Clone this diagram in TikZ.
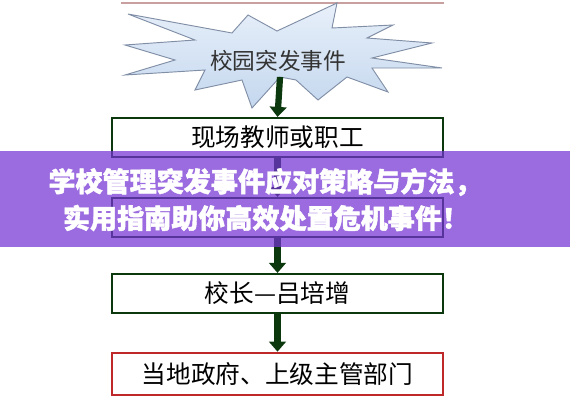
\documentclass[tikz,border=0pt]{standalone}
\usepackage{fontspec}
\newfontfamily\cjk{Noto Sans CJK SC}
\newfontfamily\cjkheavy[FakeBold=1.6]{Noto Sans CJK SC}
\usetikzlibrary{arrows.meta}

\definecolor{flowgreen}{RGB}{12,56,14}
\definecolor{burstedge}{RGB}{128,142,166}
\definecolor{bursttop}{RGB}{232,240,250}
\definecolor{burstbot}{RGB}{196,215,238}
\definecolor{toprule}{RGB}{200,160,160}
\definecolor{alertred}{RGB}{190,40,40}
\definecolor{bannerpurple}{RGB}{117,50,212}

\tikzset{
  stepbox/.style={draw=flowgreen, line width=1.9pt, fill=white, minimum width=248pt, minimum height=29pt, inner sep=0pt, font=\cjk\fontsize{18.5}{20}\selectfont},
  flowarrow/.style={draw=flowgreen, line width=4.7pt, -{Triangle[width=12.5pt,length=7.5pt]}},
  bannertext/.style={text=white, inner sep=0pt, font=\cjkheavy\bfseries\fontsize{20.3}{22}\selectfont}
}

\begin{document}
\begin{tikzpicture}[x=0.75pt,y=0.75pt,yscale=-1,xscale=1]
\useasboundingbox (0,0) rectangle (570,400);

%Straight Lines: rule at the top
\draw [color=toprule, line width=1.1pt] (121,3) -- (444,3) ;

%Shape: Starburst
\draw [color=burstedge, line width=0.7pt, top color=bursttop, bottom color=burstbot] (128,14) -- (232,33) -- (248,15) -- (277,31) -- (337,3) -- (332,28) -- (393,25) -- (367,38) -- (432,43) -- (372,58) -- (442,68) -- (372,68) -- (388,92) -- (347,77) -- (318,100) -- (296,80) -- (280,77) -- (252,108) -- (242,80) -- (195,90) -- (205,70) -- (125,75) -- (175,60) -- (125,45) -- (195,40) -- cycle ;
\coordinate (burst-bottom) at (280,77) ;

% Text Node
\node (event) [text=black!80, inner sep=0pt, font=\cjk\fontsize{17}{19}\selectfont] at (278,61) {校园突发事件};

% Boxes
\node (staff) [stepbox] at (277.5,137.5) {现场教师或职工};
\node (middle) [stepbox] at (277.5,217.5) {};
\node (head) [stepbox] at (277.5,293.5) {校长—吕培增};
\node (gov) [stepbox, draw=alertred, line width=1.5pt, minimum height=32pt] at (277.5,374) {当地政府、上级主管部门};

%Arrows
\draw [flowarrow] (burst-bottom) -- (staff.north) ;
\draw [flowarrow] (staff.south) -- (middle.north) ;
\draw [flowarrow] (middle.south) -- (head.north) ;
\draw [flowarrow] (head.south) -- (gov.north) ;

%Shape: Banner
\fill [color=bannerpurple, fill opacity=0.72] (0,151) rectangle (570,247) ;

% Text Node
\node (title-a) [bannertext] at (265,182) {学校管理突发事件应对策略与方法，};
% Text Node
\node (title-b) [bannertext] at (266,218) {实用指南助你高效处置危机事件！};

\end{tikzpicture}
\end{document}
